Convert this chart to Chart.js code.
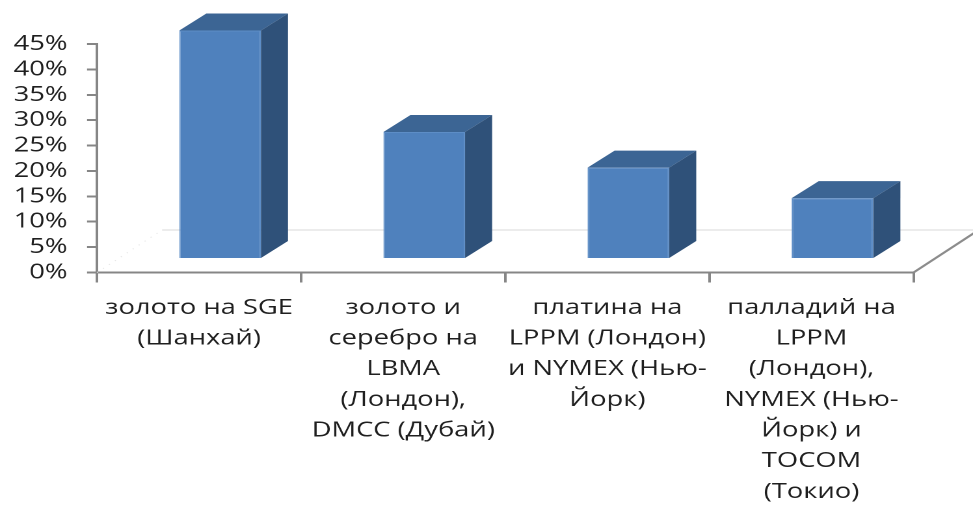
<!DOCTYPE html>
<html>
<head>
<meta charset="utf-8">
<script src="https://cdn.jsdelivr.net/npm/chart.js@4"></script>
<style>
  html, body { margin: 0; padding: 0; background: #fff; overflow: hidden; }
  #wrap { width: 973px; height: 512px; overflow: hidden; }
  /* the source picture is stretched sideways, so we draw narrow and stretch */
  #myChart { transform: scaleX(1.3008); transform-origin: 0 0; }
</style>
</head>
<body>
<div id="wrap"><canvas id="myChart" width="748" height="512"></canvas></div>
<script>
var categories = [
    ['золото на SGE', '(Шанхай)'],
    ['золото и', 'серебро на', 'LBMA', '(Лондон),', 'DMCC (Дубай)'],
    ['платина на', 'LPPM (Лондон)', 'и NYMEX (Нью-', 'Йорк)'],
    ['палладий на', 'LPPM', '(Лондон),', 'NYMEX (Нью-', 'Йорк) и', 'TOCOM', '(Токио)']
];
var shares = [45, 25, 18, 12];
var yMin = 0, yMax = 45, yStep = 5;

// 3d look: where the bar fronts sit on the floor, bar depth, floor depth
var OFF_X = 16.15, OFF_Y = -13.5;
var DEPTH_X = 20.8, DEPTH_Y = -17;
var FLOOR_X = 50, FLOOR_Y = -42.5;

var bars3d = {
    id: 'bars3d',
    beforeDatasetsDraw: function (chart) {
        var ctx = chart.ctx, a = chart.chartArea;
        ctx.save();
        // back edge of the floor
        ctx.lineWidth = 1;
        ctx.strokeStyle = '#d9d9d9';
        ctx.beginPath();
        ctx.moveTo(a.left + FLOOR_X, a.bottom + FLOOR_Y);
        ctx.lineTo(chart.width + 20, a.bottom + FLOOR_Y);
        ctx.stroke();
        // faint left edge
        ctx.strokeStyle = '#e6e6e6';
        ctx.setLineDash([1, 5]);
        ctx.beginPath();
        ctx.moveTo(a.left, a.bottom);
        ctx.lineTo(a.left + FLOOR_X, a.bottom + FLOOR_Y);
        ctx.stroke();
        ctx.setLineDash([]);
        // right edge
        ctx.strokeStyle = '#8c8c8c';
        ctx.lineWidth = 2;
        ctx.beginPath();
        ctx.moveTo(a.right, a.bottom);
        ctx.lineTo(a.right + FLOOR_X * 1.1, a.bottom + FLOOR_Y * 1.1);
        ctx.stroke();
        ctx.restore();
    },
    beforeDatasetDraw: function (chart) {
        chart.ctx.save();
        chart.ctx.translate(OFF_X, OFF_Y);
    },
    afterDatasetDraw: function (chart, args) {
        var ctx = chart.ctx;
        args.meta.data.forEach(function (bar) {
            var p = bar.getProps(['x', 'y', 'base', 'width'], true);
            var l = p.x - p.width / 2, r = p.x + p.width / 2, t = p.y, b = p.base;
            // top
            ctx.fillStyle = '#3c6594';
            ctx.beginPath();
            ctx.moveTo(l, t);
            ctx.lineTo(r, t);
            ctx.lineTo(r + DEPTH_X, t + DEPTH_Y);
            ctx.lineTo(l + DEPTH_X, t + DEPTH_Y);
            ctx.closePath();
            ctx.fill();
            // side
            ctx.fillStyle = '#2f5179';
            ctx.beginPath();
            ctx.moveTo(r, t);
            ctx.lineTo(r + DEPTH_X, t + DEPTH_Y);
            ctx.lineTo(r + DEPTH_X, b + DEPTH_Y);
            ctx.lineTo(r, b);
            ctx.closePath();
            ctx.fill();
        });
        ctx.restore();
    }
};

var ctx = document.getElementById('myChart').getContext('2d');

var myChart = new Chart(ctx, {
    type: 'bar',
    data: {
        labels: categories,
        datasets: [{
            label: 'Доля',
            data: shares,
            backgroundColor: '#4f81bd',
            borderColor: '#5d8dc6',
            borderWidth: 1,
            barPercentage: 0.4,
            categoryPercentage: 1,
            clip: false
        }]
    },
    options: {
        responsive: false,
        devicePixelRatio: 2,
        animation: false,
        layout: {
            padding: { top: 44, right: 45.7, left: 0, bottom: 0 }
        },
        plugins: {
            legend: { display: false },
            tooltip: { enabled: false }
        },
        scales: {
            x: {
                afterFit: function (scale) { scale.height = 239.5; },
                grid: {
                    offset: true,
                    drawOnChartArea: false,
                    tickLength: 10,
                    color: '#868686',
                    lineWidth: 2
                },
                border: { color: '#868686', width: 2 },
                ticks: {
                    autoSkip: false,
                    maxRotation: 0,
                    padding: 10,
                    color: '#1f1f1f',
                    font: { family: '"Open Sans"', size: 21, lineHeight: 1.46 }
                }
            },
            y: {
                min: yMin,
                max: yMax,
                afterFit: function (scale) { scale.width = 74.6; },
                grid: {
                    drawOnChartArea: false,
                    tickLength: 7.7,
                    color: '#868686',
                    lineWidth: 2
                },
                border: { color: '#868686', width: 2 },
                ticks: {
                    autoSkip: false,
                    stepSize: yStep,
                    padding: 15,
                    color: '#1f1f1f',
                    font: { family: '"Open Sans"', size: 21 },
                    callback: function (v) { return v + '%'; }
                }
            }
        }
    },
    plugins: [bars3d]
});
</script>
</body>
</html>
